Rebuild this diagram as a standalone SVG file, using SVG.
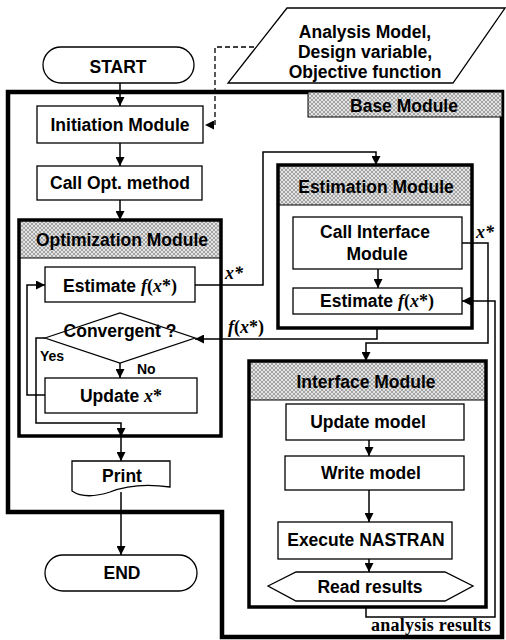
<svg xmlns="http://www.w3.org/2000/svg" width="506" height="640" viewBox="0 0 506 640">
<defs>
<pattern id="hatch" width="4" height="4" patternUnits="userSpaceOnUse">
<rect width="4" height="4" fill="#e2e2e2"/>
<path d="M0,0 L4,4 M4,0 L0,4" stroke="#8a8a8a" stroke-width="0.7"/>
</pattern>
<marker id="arr" viewBox="0 0 10 10" refX="10" refY="5" markerWidth="9" markerHeight="9" markerUnits="userSpaceOnUse" orient="auto">
<path d="M0,0 L10,5 L0,10 Z" fill="#000"/>
</marker>
</defs>
<style>
.box{fill:#fff;stroke:#000;stroke-width:1.3}
.mod{fill:none;stroke:#000;stroke-width:3.5}
.hdr{fill:url(#hatch);stroke:none}
.t{font-family:"Liberation Sans",Arial,sans-serif;font-weight:bold;font-size:17.5px;text-anchor:middle;fill:#000}
.s{font-family:"Liberation Serif","Times New Roman",serif;font-weight:bold;font-size:18px;fill:#000}
.i{font-style:italic}
.c{fill:none;stroke:#000;stroke-width:1.5}
.d{fill:none;stroke:#000;stroke-width:1.3;stroke-dasharray:5,3}
.sm{font-family:"Liberation Sans",Arial,sans-serif;font-weight:bold;font-size:14px;fill:#000}
</style>
<rect width="506" height="640" fill="#fff"/>

<g id="base-module">
<path d="M8,92 H502 V637 H222 V512 H8 Z" fill="none" stroke="#000" stroke-width="4.5"/>
<rect x="308" y="92" width="194" height="25" fill="url(#hatch)" stroke="#000" stroke-width="1"/>
<text class="t" x="404" y="112">Base Module</text>
</g>

<g id="input">
<path d="M287,8 H505 L453,83 H228 Z" class="box"/>
<text class="t" x="365" y="38" font-size="17">Analysis Model,</text>
<text class="t" x="365" y="58" font-size="17">Design variable,</text>
<text class="t" x="365" y="78" font-size="17">Objective function</text>
</g>

<g id="start">
<rect x="43" y="47" width="151" height="36" rx="18" class="box"/>
<text class="t" x="118" y="73">START</text>
</g>

<g id="initiation">
<rect x="37" y="106" width="166" height="37" class="box"/>
<text class="t" x="120" y="131">Initiation Module</text>
</g>

<g id="call-opt">
<rect x="37" y="166" width="165" height="34" class="box"/>
<text class="t" x="120" y="189">Call Opt. method</text>
</g>

<g id="optimization-module">
<rect x="19" y="220" width="202" height="38" class="hdr"/>
<line x1="19" y1="258" x2="221" y2="258" stroke="#000" stroke-width="1"/>
<rect x="19" y="220" width="202" height="216" class="mod"/>
<text class="t" x="122" y="246">Optimization Module</text>
</g>

<g id="estimate-opt">
<rect x="45" y="267" width="150" height="35" class="box"/>
<text class="t" x="120" y="292"><tspan>Estimate </tspan><tspan class="s i">f</tspan><tspan class="s">(</tspan><tspan class="s i">x</tspan><tspan class="s">*)</tspan></text>
</g>

<g id="convergent">
<path d="M45,338 L120,313 L195,338 L120,363 Z" class="box"/>
<text class="t" x="120" y="337">Convergent ?</text>
</g>

<g id="update-x">
<rect x="45" y="378" width="152" height="35" class="box"/>
<text class="t" x="121" y="402"><tspan>Update </tspan><tspan class="s i">x</tspan><tspan class="s">*</tspan></text>
</g>

<g id="print">
<path d="M72,461 H170 V487 Q135,482 110,492 Q85,500 72,491 Z" class="box"/>
<text class="t" x="122" y="482">Print</text>
</g>

<g id="end">
<rect x="45" y="555" width="152" height="36" rx="18" class="box"/>
<text class="t" x="122" y="579">END</text>
</g>

<g id="estimation-module">
<rect x="278" y="165" width="194" height="40" class="hdr"/>
<line x1="278" y1="205" x2="472" y2="205" stroke="#000" stroke-width="1"/>
<rect x="278" y="165" width="194" height="163" class="mod"/>
<text class="t" x="376" y="193">Estimation Module</text>
</g>

<g id="call-interface">
<rect x="293" y="217" width="169" height="52" class="box"/>
<text class="t" x="375" y="238">Call Interface</text>
<text class="t" x="377" y="260">Module</text>
</g>

<g id="estimate-est">
<rect x="293" y="288" width="169" height="26" class="box"/>
<text class="t" x="377" y="307"><tspan>Estimate </tspan><tspan class="s i">f</tspan><tspan class="s">(</tspan><tspan class="s i">x</tspan><tspan class="s">*)</tspan></text>
</g>

<g id="interface-module">
<rect x="249" y="361" width="237" height="39" class="hdr"/>
<line x1="249" y1="400" x2="486" y2="400" stroke="#000" stroke-width="1"/>
<rect x="249" y="361" width="237" height="246" class="mod"/>
<text class="t" x="366" y="388">Interface Module</text>
</g>

<g id="update-model">
<rect x="286" y="404" width="178" height="36" class="box"/>
<text class="t" x="368" y="428">Update model</text>
</g>

<g id="write-model">
<rect x="285" y="456" width="179" height="34" class="box"/>
<text class="t" x="371" y="479">Write model</text>
</g>

<g id="execute-nastran">
<rect x="278" y="522" width="174" height="37" class="box"/>
<text class="t" x="366" y="546">Execute NASTRAN</text>
</g>

<g id="read-results">
<path d="M268,586 L296,572 H445 L473,586 L445,601 H296 Z" class="box"/>
<text class="t" x="370" y="593">Read results</text>
</g>

<g id="connectors">
<path class="d" d="M254,47 H215 V125 H205" marker-end="url(#arr)"/>
<line class="c" x1="120" y1="83" x2="120" y2="106" marker-end="url(#arr)"/>
<line class="c" x1="120" y1="143" x2="120" y2="166" marker-end="url(#arr)"/>
<line class="c" x1="120" y1="200" x2="120" y2="220" marker-end="url(#arr)"/>
<path class="c" d="M195,285 H263 V152 H376 V165" marker-end="url(#arr)"/>
<path class="c" d="M377,328 V339 H195" marker-end="url(#arr)"/>
<line class="c" x1="120" y1="363" x2="120" y2="378" marker-end="url(#arr)"/>
<path class="c" d="M45,395 H27 V285 H45" marker-end="url(#arr)"/>
<path class="c" d="M45,338 H36 V423 H121 V437" marker-end="url(#arr)"/>
<line class="c" x1="121" y1="437" x2="121" y2="461" marker-end="url(#arr)"/>
<line class="c" x1="121" y1="492" x2="121" y2="555" marker-end="url(#arr)"/>
<line class="c" x1="378" y1="269" x2="378" y2="288" marker-end="url(#arr)"/>
<path class="c" d="M462,243 H488 V343 H366 V361" marker-end="url(#arr)"/>
<path class="c" d="M366,607 V617 H495 V301 H462" marker-end="url(#arr)"/>
<line class="c" x1="369" y1="440" x2="369" y2="456" marker-end="url(#arr)"/>
<line class="c" x1="369" y1="490" x2="369" y2="522" marker-end="url(#arr)"/>
<line class="c" x1="369" y1="559" x2="369" y2="572" marker-end="url(#arr)"/>
<text class="s i" x="225" y="279" font-size="19">x*</text>
<text class="s" x="228" y="333"><tspan class="i">f</tspan>(<tspan class="i">x</tspan>*)</text>
<text class="s i" x="476" y="238" font-size="19">x*</text>
<text class="sm" x="40" y="361">Yes</text>
<text class="sm" x="137" y="374">No</text>
<text class="s" x="371" y="631" font-size="16" textLength="120">analysis results</text>
</g>
</svg>
